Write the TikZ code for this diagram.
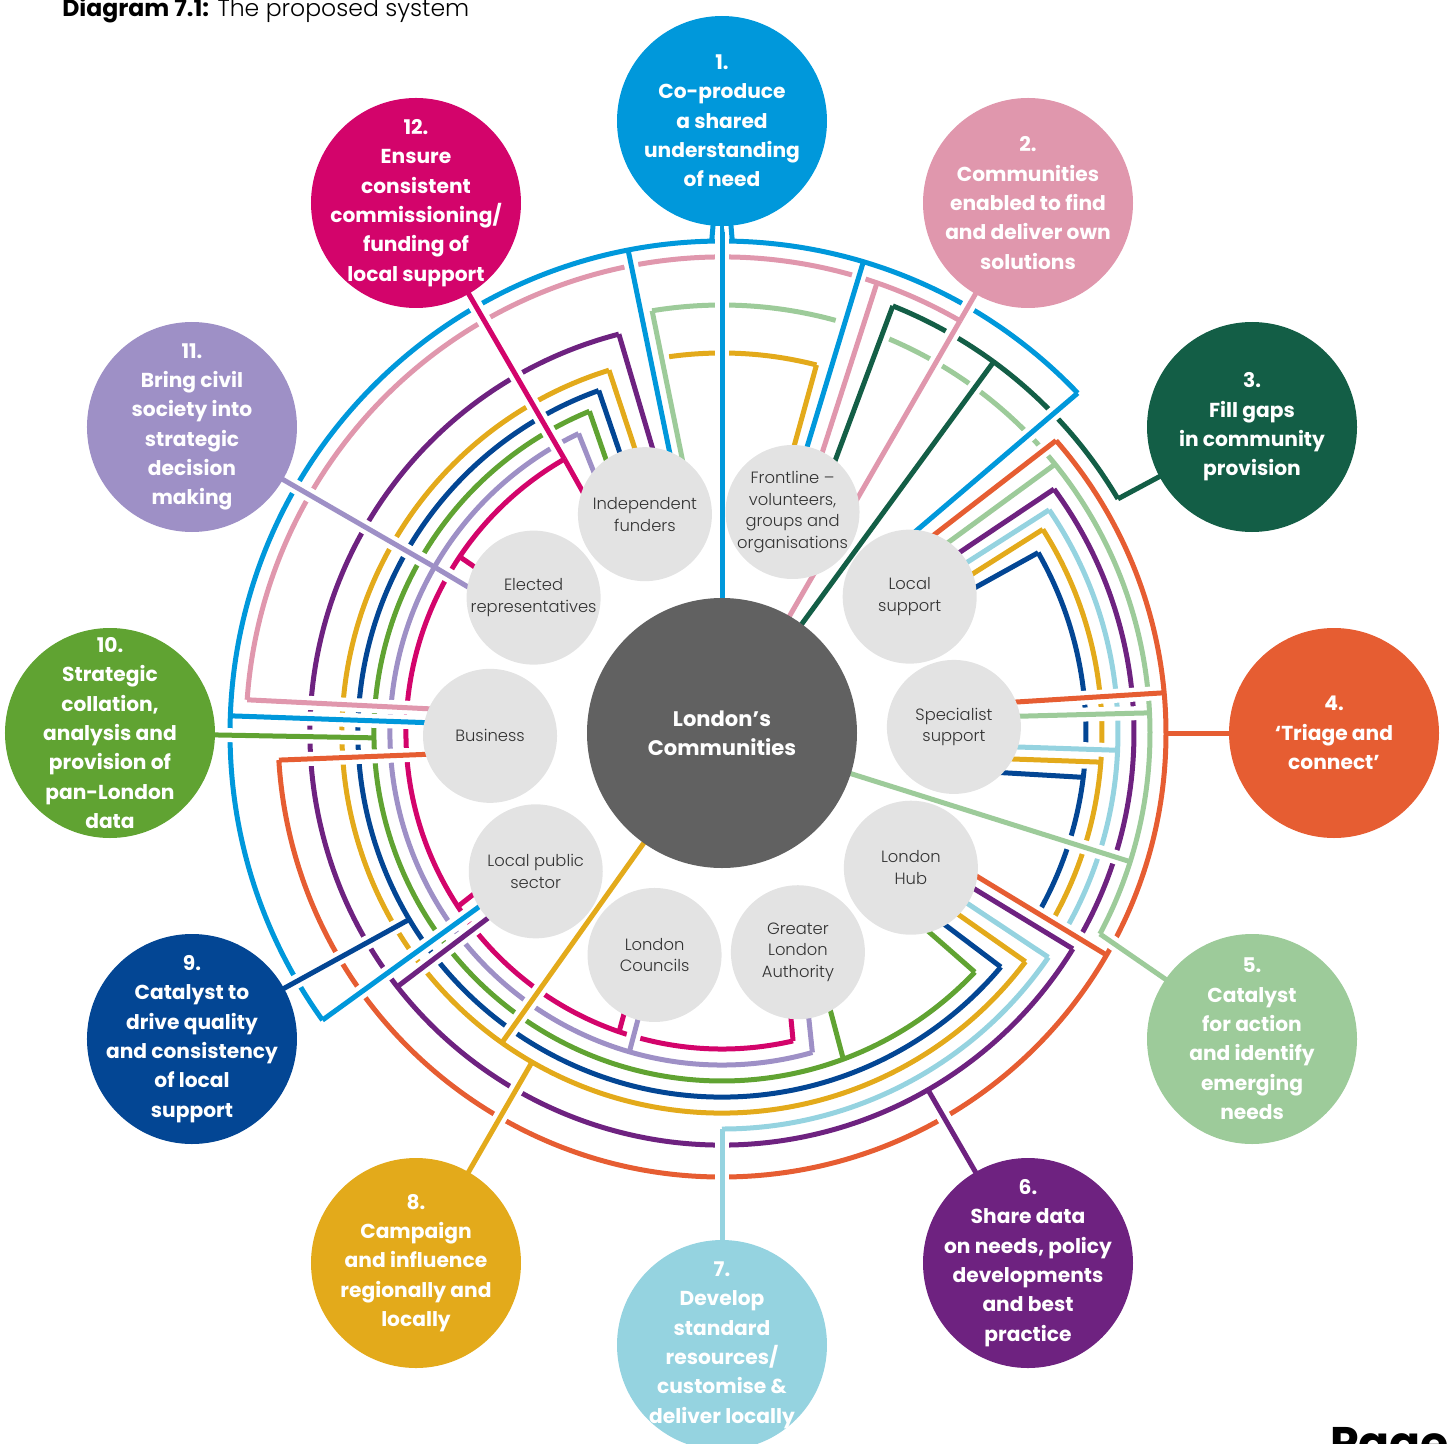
\documentclass[tikz,border=0pt]{standalone}
\usepackage{fontspec}
\setmainfont{Poppins}
\newfontfamily\lightfont{Poppins Light}
\usetikzlibrary{calc, backgrounds}
\definecolor{cOne}{RGB}{0,152,219}
\definecolor{cTwo}{RGB}{224,151,173}
\definecolor{cThree}{RGB}{19,94,70}
\definecolor{cFour}{RGB}{230,93,50}
\definecolor{cFive}{RGB}{157,203,154}
\definecolor{cSix}{RGB}{110,34,128}
\definecolor{cSeven}{RGB}{149,211,224}
\definecolor{cEight}{RGB}{227,170,27}
\definecolor{cNine}{RGB}{3,70,148}
\definecolor{cTen}{RGB}{96,163,50}
\definecolor{cEleven}{RGB}{158,144,198}
\definecolor{cTwelve}{RGB}{211,4,107}
\definecolor{stakegrey}{RGB}{227,227,227}
\definecolor{coregrey}{RGB}{97,97,97}
\definecolor{textgrey}{RGB}{51,51,51}
\tikzset{
    aim/.style={circle, fill=#1, text=white, minimum size=4.2cm, inner sep=-0.9cm, align=center, font=\bfseries\fontsize{11.5}{16.7}\selectfont},
    stake/.style={circle, fill=stakegrey, text=textgrey, minimum size=2.68cm, inner sep=-0.3cm, align=center, font=\lightfont\fontsize{9.3}{12.4}\selectfont},
    core/.style={circle, fill=coregrey, text=white, minimum size=5.4cm, inner sep=0pt, align=center, font=\bfseries\fontsize{12}{16.5}\selectfont},
    link/.style={line width=0.1cm},
    casing/.style={line width=0.28cm, draw=white}
}
% from a point of a ring to a stakeholder, shifted sideways
\newcommand{\spoke}[5]{%
    \coordinate (ringpt) at (#3:#2);
    \coordinate (foot) at ($(#4.center)!#5!-90:(core.center)$);
    \draw[casing] ($(ringpt)!0.2cm!(foot)$) -- (foot);
    \draw[link, #1] (ringpt) -- (foot);
}
% from a point of a ring to the centre of a node
\newcommand{\feed}[4]{%
    \coordinate (ringpt) at (#3:#2);
    \draw[casing] ($(ringpt)!0.2cm!(#4.center)$) -- (#4.center);
    \draw[link, #1] (ringpt) -- (#4.center);
}

\begin{document}
\begin{tikzpicture}
    \useasboundingbox (-14.44,-14.2) rectangle (14.52,14.66);

    % Centre
    \node[core] (core) at (0,0) {London’s\\Communities};

    % Stakeholders
    \node[stake] (fund) at (109.4:4.64) {Independent\\funders};
    \node[stake] (front) at (72.3:4.64) {Frontline –\\volunteers,\\groups and\\organisations};
    \node[stake] (loc) at (36:4.64) {Local\\support};
    \node[stake] (spec) at (1.5:4.64) {Specialist\\support};
    \node[stake] (hub) at (-35.5:4.64) {London\\Hub};
    \node[stake] (gla) at (-70.9:4.64) {Greater\\London\\Authority};
    \node[stake] (lc) at (-106.9:4.64) {London\\Councils};
    \node[stake] (lps) at (-143.4:4.64) {Local public\\sector};
    \node[stake] (bus) at (180.7:4.64) {Business};
    \node[stake] (elect) at (144.3:4.64) {Elected\\representatives};

    % Aims
    \node[aim=cOne] (aimA) at (90:12.24) {1.\\Co-produce\\a shared\\understanding\\of need};
    \node[aim=cTwo] (aimB) at (60:12.24) {2.\\Communities\\enabled to find\\and deliver own\\solutions};
    \node[aim=cThree] (aimC) at (30:12.24) {3.\\Fill gaps\\in community\\provision};
    \node[aim=cFour] (aimD) at (0:12.24) {4.\\‘Triage and\\connect’};
    \node[aim=cFive] (aimE) at (-30:12.24) {5.\\Catalyst\\for action\\and identify\\emerging\\needs};
    \node[aim=cSix] (aimF) at (-60:12.24) {6.\\Share data\\on needs, policy\\developments\\and best\\practice};
    \node[aim=cSeven] (aimG) at (-90:12.24) {7.\\Develop\\standard\\resources/\\customise \&\\deliver locally};
    \node[aim=cEight] (aimH) at (-120:12.24) {8.\\Campaign\\and influence\\regionally and\\locally};
    \node[aim=cNine] (aimI) at (-150:12.24) {9.\\Catalyst to\\drive quality\\and consistency\\of local\\support};
    \node[aim=cTen] (aimJ) at (180:12.24) {10.\\Strategic\\collation,\\analysis and\\provision of\\pan-London\\data};
    \node[aim=cEleven] (aimK) at (150:12.24) {11.\\Bring civil\\society into\\strategic\\decision\\making};
    \node[aim=cTwelve] (aimL) at (120:12.24) {12.\\Ensure\\consistent\\commissioning/\\funding of\\local support};

    % Heading and page
    \node[anchor=base west, inner sep=0pt, font=\fontsize{13.4}{15}\selectfont] (heading) at (-13.2,14.32) {\textbf{Diagram 7.1:} {\lightfont The proposed system}};
    \node[anchor=base west, inner sep=0pt, font=\bfseries\fontsize{26}{30}\selectfont] (pagenum) at (12.16,-14.52) {Page 6};

    \begin{pgfonlayer}{background}
        % Rings
        \foreach \col/\rad/\from/\to in {cOne/9.84/43.7/215.7, cTwo/9.52/60/176, cThree/9.20/30.6/68.2,
            cFour/8.88/183.5/401.2, cFive/8.56/-28/67, cFive/8.56/74.6/99.4, cSix/8.24/104.5/328.4,
            cSix/8.24/330.4/396.3, cSeven/7.92/-90/-34.5, cSeven/7.92/-29.6/34.3, cEight/7.60/107.3/323,
            cEight/7.60/330.4/392.4, cEight/7.60/75.6/98, cNine/7.28/109.8/320, cNine/7.28/330.4/389.7,
            cTen/6.96/112.4/316.6, cEleven/6.64/115.6/285.8, cTwelve/6.32/119.9/283}
            \draw[link, \col] (\from:\rad) arc[start angle=\from, end angle=\to, radius=\rad];

        % Aim 1 runs straight into the centre
        \draw[casing] (aimA.center) -- (core.center);
        \draw[link, cOne] (aimA.center) -- (core.center);
        \feed{cOne}{9.84}{88.8}{aimA}
        \feed{cOne}{9.84}{91.2}{aimA}

        % Rings to stakeholders
        \foreach \col/\rad/\ang/\who/\off in {
            cTwelve/6.32/119.9/fund/0.88cm, cEleven/6.64/115.6/fund/0.64cm, cTen/6.96/112.4/fund/0.38cm,
            cNine/7.28/109.8/fund/0.08cm, cEight/7.60/107.3/fund/-0.22cm, cSix/8.24/104.5/fund/-0.52cm,
            cOne/9.84/101/fund/-0.74cm, cFive/8.56/99.4/fund/-0.96cm,
            cEight/7.60/75.6/front/0.32cm, cOne/9.84/73.3/front/0.10cm, cTwo/9.52/71/front/-0.20cm,
            cThree/9.20/68.2/front/-0.44cm,
            cOne/9.84/43.7/loc/0.92cm, cFour/8.88/41.2/loc/0.68cm, cFive/8.56/38.9/loc/0.42cm,
            cSix/8.24/36.3/loc/0.18cm, cSeven/7.92/34.3/loc/-0.04cm, cEight/7.60/32.4/loc/-0.29cm,
            cNine/7.28/29.7/loc/-0.48cm,
            cFour/8.88/5.2/spec/0.42cm, cFive/8.56/2.7/spec/0.18cm, cSeven/7.92/-2.5/spec/-0.36cm,
            cEight/7.60/-4.4/spec/-0.60cm, cNine/7.28/-7/spec/-0.86cm,
            cFour/8.88/-30/hub/0.54cm, cSix/8.24/-31.6/hub/0.30cm, cSeven/7.92/-34.5/hub/0.03cm,
            cEight/7.60/-37/hub/-0.22cm, cNine/7.28/-40/hub/-0.50cm, cTen/6.96/-43.4/hub/-0.73cm,
            cTen/6.96/-69.6/gla/0.33cm, cEleven/6.64/-74.2/gla/0.08cm, cTwelve/6.32/-77/gla/-0.27cm,
            cEleven/6.64/-106.2/lc/0.01cm, cTwelve/6.32/-109/lc/-0.28cm,
            cOne/9.84/215.7/lps/-0.09cm, cSix/8.24/-142/lps/0.17cm, cTwelve/6.32/-146.7/lps/-0.41cm,
            cOne/9.84/178/bus/-0.22cm, cTwo/9.52/176/bus/-0.48cm, cFour/8.88/183.5/bus/0.32cm,
            cTwelve/6.32/146.1/elect/0.16cm, cEleven/6.64/150/elect/0.49cm}
            {\spoke{\col}{\rad}{\ang}{\who}{\off}}

        % Rings to aims and to the centre
        \foreach \col/\rad/\ang/\who in {
            cTwo/9.52/60/aimB, cTwo/9.52/60/core, cThree/9.20/30.6/aimC, cThree/9.20/53.8/core,
            cFour/8.88/0/aimD, cFive/8.56/-28/aimE, cFive/8.56/-17.5/core, cSix/8.24/-60/aimF,
            cSeven/7.92/-90/aimG, cEight/7.60/-120/aimH, cEight/7.60/-125.4/core, cNine/7.28/-149.2/aimI,
            cTen/6.96/180.8/aimJ, cEleven/6.64/150/aimK, cTwelve/6.32/119.9/aimL}
            {\feed{\col}{\rad}{\ang}{\who}}
    \end{pgfonlayer}
\end{tikzpicture}
\end{document}
